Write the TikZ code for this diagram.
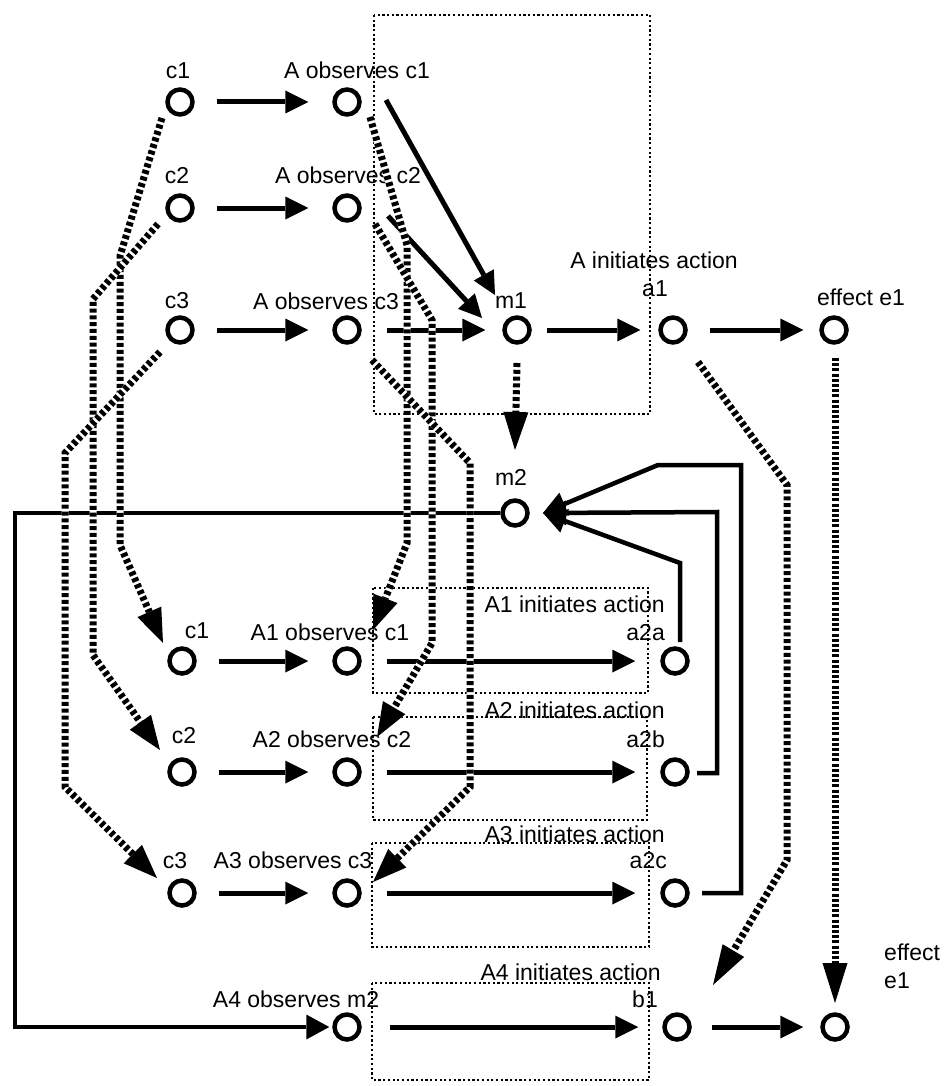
\documentclass[tikz,border=0pt]{standalone}
\usepackage{fontspec}
\setmainfont{Liberation Sans}
\usetikzlibrary{arrows.meta,calc}
\tikzset{
  dot/.style={circle, draw, line width=4.5pt, minimum size=25pt, inner sep=0pt},
  lab/.style={font=\fontsize{23}{27}\selectfont, inner sep=0pt, anchor=base},
  sarr/.style={line width=5pt, -{Triangle[length=23pt,width=23pt,line width=0pt]}},
  conn/.style={line width=4.5pt, line join=miter, -{Triangle[length=23pt,width=25pt,line width=0pt]}},
  dbox/.style={line width=2.2pt, dash pattern=on 2.2pt off 2.5pt},
  ladder/.style={line width=7pt, dash pattern=on 4pt off 2.8pt,
     preaction={draw=white, solid, line width=7pt},
     -{Triangle[length=34pt,width=26pt,line width=0pt]}},
}
\begin{document}
\begin{tikzpicture}[x=1pt,y=-1pt]
\useasboundingbox (0,0) rectangle (947,1086);
% dotted boxes
\draw[dbox] (374,15) rectangle (650,414);
\draw[dbox] (373,588) rectangle (648,693);
\draw[dbox] (373,717) rectangle (647,820);
\draw[dbox] (372,843) rectangle (649,947);
\draw[dbox] (372,983) rectangle (649,1080);
% circles
\node[dot] (c1) at (180,102) {};
\node[dot] (ao1) at (347,102) {};
\node[dot] (c2) at (180,208) {};
\node[dot] (ao2) at (347,208) {};
\node[dot] (c3) at (180,330) {};
\node[dot] (ao3) at (347,330) {};
\node[dot] (m1) at (517,330) {};
\node[dot] (a1) at (673,330) {};
\node[dot] (e1) at (834,330) {};
\node[dot] (m2) at (515,513) {};
\node[dot] (d1) at (182,661) {};
\node[dot] (bo1) at (347,661) {};
\node[dot] (a2a) at (675,661) {};
\node[dot] (d2) at (182,772) {};
\node[dot] (bo2) at (347,772) {};
\node[dot] (a2b) at (675,772) {};
\node[dot] (d3) at (182,893) {};
\node[dot] (bo3) at (347,893) {};
\node[dot] (a2c) at (675,893) {};
\node[dot] (bo4) at (347,1027) {};
\node[dot] (b1) at (677,1027) {};
\node[dot] (e2) at (835,1027) {};
% labels
\node[lab] (tc1) at (178,79) {c1};
\node[lab] (tao1) at (357,79) {A observes c1};
\node[lab] (tc2) at (177,183) {c2};
\node[lab] (tao2) at (348,184) {A observes c2};
\node[lab] (tc3) at (177,308) {c3};
\node[lab] (tao3) at (326,309) {A observes c3};
\node[lab] (tm1) at (511,308) {m1};
\node[lab] (tact) at (654,268) {A initiates action};
\node[lab] (ta1) at (655,296) {a1};
\node[lab] (te1) at (861,305) {effect e1};
\node[lab] (tm2) at (511,485) {m2};
\node[lab] (td1) at (197,638) {c1};
\node[lab] (tbo1) at (330,640) {A1 observes c1};
\node[lab, anchor=base east] (tact1) at (665,612) {A1 initiates action};
\node[lab, anchor=base east] (ta2a) at (665,640) {a2a};
\node[lab] (td2) at (184,743) {c2};
\node[lab] (tbo2) at (332,747) {A2 observes c2};
\node[lab, anchor=base east] (tact2) at (665,718) {A2 initiates action};
\node[lab, anchor=base east] (ta2b) at (665,747) {a2b};
\node[lab] (td3) at (175,868) {c3};
\node[lab] (tbo3) at (293,868) {A3 observes c3};
\node[lab, anchor=base east] (tact3) at (665,842) {A3 initiates action};
\node[lab, anchor=base east] (ta2c) at (667,868) {a2c};
\node[lab] (tbo4) at (296,1007) {A4 observes m2};
\node[lab, anchor=base east] (tact4) at (661,980) {A4 initiates action};
\node[lab, anchor=base east] (tb1) at (658,1007) {b1};
\node[lab, anchor=base west] (teff) at (884,960) {effect};
\node[lab, anchor=base west] (te2) at (884,988) {e1};
% solid arrows
\draw[sarr, shorten <=22pt, shorten >=24pt] (c1) -- (ao1);
\draw[sarr, shorten <=22pt, shorten >=24pt] (c2) -- (ao2);
\draw[sarr, shorten <=22pt, shorten >=24pt] (c3) -- (ao3);
\draw[sarr] ($(ao1)+(39,-2)$) -- ($(m1)+(-22,-35)$);
\draw[sarr] ($(ao2)+(41,8)$) -- ($(m1)+(-35,-12)$);
\draw[sarr, shorten <=25pt, shorten >=17pt] (ao3) -- (m1);
\draw[sarr, shorten <=15pt, shorten >=18pt] (m1) -- (a1);
\draw[sarr, shorten <=22pt, shorten >=16pt] (a1) -- (e1);
\draw[sarr, shorten <=22pt, shorten >=24pt] (d1) -- (bo1);
\draw[sarr, shorten <=22pt, shorten >=24pt] (d2) -- (bo2);
\draw[sarr, shorten <=22pt, shorten >=24pt] (d3) -- (bo3);
\draw[sarr, shorten <=25pt, shorten >=25pt] (bo1) -- (a2a);
\draw[sarr, shorten <=25pt, shorten >=25pt] (bo2) -- (a2b);
\draw[sarr, shorten <=25pt, shorten >=25pt] (bo3) -- (a2c);
\draw[sarr, shorten <=28pt, shorten >=24pt] (bo4) -- (b1);
\draw[sarr, shorten <=20pt, shorten >=17pt] (b1) -- (e2);
% m2 connectors
\coordinate (m2tip) at ($(m2)+(28,0)$);
\draw[conn, shorten >=3pt] (m2.west) -- (15,513) -- (15,1027) -- (bo4);
\draw[conn] ($(a2a)+(5,-19)$) -- (680,563) -- (m2tip);
\draw[conn] ($(a2b)+(22,1)$) -- (717,773) -- (717,512) -- (m2tip);
\draw[conn] ($(a2c)+(27,0)$) -- (741,893) -- (741,465) -- (658,465) -- (m2tip);
% ladders
\draw[ladder] ($(c1)+(-18,16)$) -- (120,256) -- (120,545) -- ($(d1)+(-19,-18)$);
\draw[ladder] ($(c2)+(-22,16)$) -- (93,299) -- (93,655) -- ($(d2)+(-22,-22)$);
\draw[ladder] ($(c3)+(-20,22)$) -- (65,453) -- (65,787) -- ($(d3)+(-25,-15)$);
\draw[ladder] ($(ao1)+(23,15)$) -- (407,245) -- (407,543) -- ($(bo1)+(26,-31)$);
\draw[ladder] ($(ao2)+(28,16)$) -- (432,320) -- (432,643) -- ($(bo2)+(30,-35)$);
\draw[ladder] ($(ao3)+(25,30)$) -- (470,463) -- (470,787) -- ($(bo3)+(26,-11)$);
\draw[ladder, -{Triangle[length=38pt,width=25pt,line width=0pt]}] ($(m1)+(0,33)$) -- ($(m2)+(0,-63)$);
\draw[ladder, -{Triangle[length=40pt,width=25pt,line width=0pt]}] ($(a1)+(25,32)$) -- (787,485) -- (787,860) -- ($(b1)+(36,-42)$);
\draw[ladder, dash pattern=on 3pt off 2.2pt, -{Triangle[length=40pt,width=25pt,line width=0pt]}] ($(e1)+(1,28)$) -- ($(e2)+(0,-24)$);
\end{tikzpicture}
\end{document}
